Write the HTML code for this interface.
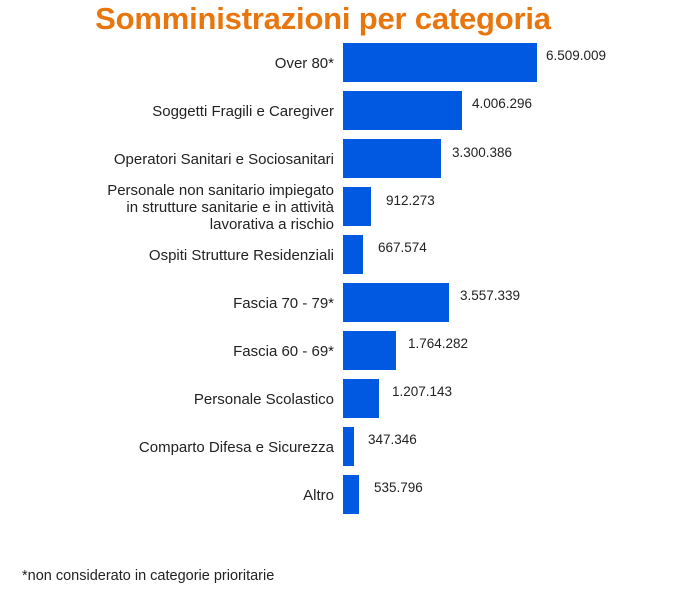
<!DOCTYPE html>
<html><head><meta charset="utf-8"><style>
body{margin:0;background:#fff;width:686px;height:591px;overflow:hidden;font-family:"Liberation Sans",sans-serif;position:relative}
.t{position:absolute;left:0;width:646px;text-align:center;top:1px;font-size:31px;font-weight:bold;color:#e8760f;white-space:nowrap;letter-spacing:-0.2px}
.b{position:absolute;left:343px;height:39px;background:#0059e0}
.l{position:absolute;right:352px;text-align:right;font-size:15px;color:#222;line-height:17px;white-space:nowrap}
.v{position:absolute;font-size:13.5px;color:#222;white-space:nowrap}
.f{position:absolute;left:22px;top:568px;font-size:14.5px;color:#222}
</style></head><body>
<div class="t">Somministrazioni per categoria</div>

<div class="b" style="top:43px;width:194px"></div><div class="l" style="top:55px">Over 80*</div><div class="v" style="top:48px;left:546px">6.509.009</div>
<div class="b" style="top:91px;width:119px"></div><div class="l" style="top:103px">Soggetti Fragili e Caregiver</div><div class="v" style="top:96px;left:472px">4.006.296</div>
<div class="b" style="top:139px;width:98px"></div><div class="l" style="top:151px">Operatori Sanitari e Sociosanitari</div><div class="v" style="top:145px;left:452px">3.300.386</div>
<div class="b" style="top:187px;width:28px"></div><div class="l" style="top:182px">Personale non sanitario impiegato<br>in strutture sanitarie e in attività<br>lavorativa a rischio</div><div class="v" style="top:193px;left:386px">912.273</div>
<div class="b" style="top:235px;width:20px"></div><div class="l" style="top:247px">Ospiti Strutture Residenziali</div><div class="v" style="top:240px;left:378px">667.574</div>
<div class="b" style="top:283px;width:106px"></div><div class="l" style="top:295px">Fascia 70 - 79*</div><div class="v" style="top:288px;left:460px">3.557.339</div>
<div class="b" style="top:331px;width:53px"></div><div class="l" style="top:343px">Fascia 60 - 69*</div><div class="v" style="top:336px;left:408px">1.764.282</div>
<div class="b" style="top:379px;width:36px"></div><div class="l" style="top:391px">Personale Scolastico</div><div class="v" style="top:384px;left:392px">1.207.143</div>
<div class="b" style="top:427px;width:11px"></div><div class="l" style="top:439px">Comparto Difesa e Sicurezza</div><div class="v" style="top:432px;left:368px">347.346</div>
<div class="b" style="top:475px;width:16px"></div><div class="l" style="top:487px">Altro</div><div class="v" style="top:480px;left:374px">535.796</div>

<div class="f">*non considerato in categorie prioritarie</div>
</body></html>
